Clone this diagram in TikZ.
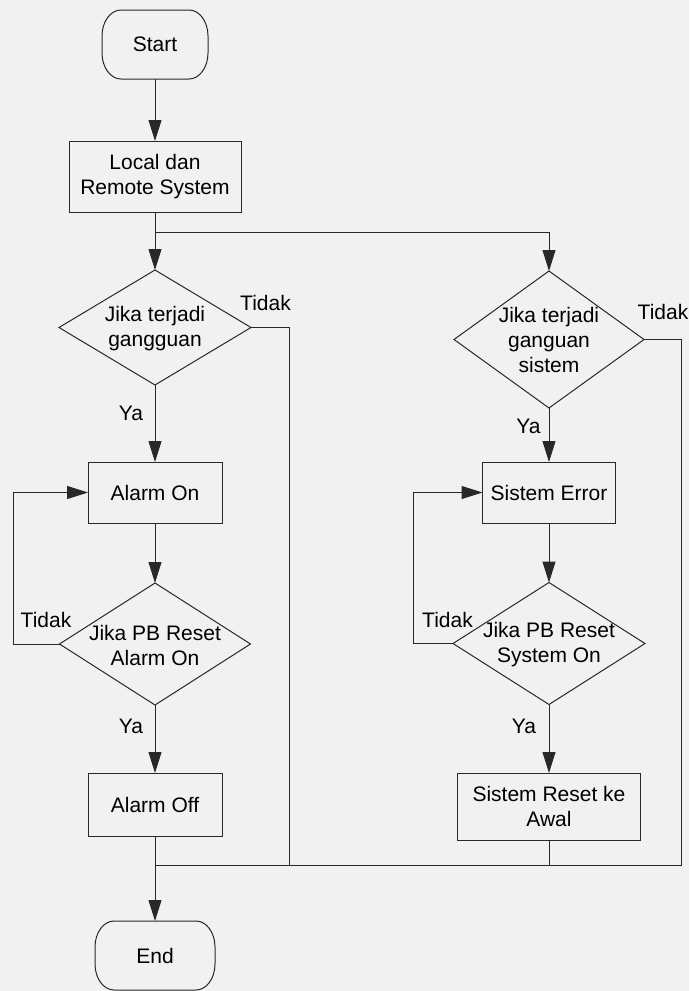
\documentclass[tikz,border=0pt]{standalone}
\usepackage{fontspec}
\setmainfont{Liberation Sans}
\usetikzlibrary{arrows.meta,shapes.geometric}
\definecolor{bgc}{RGB}{241,241,241}
\definecolor{lnc}{RGB}{40,40,40}
\newcommand{\termoutline}[1]{%
  \draw[lnc,line width=1pt] ([xshift=19pt]#1.north west) -- ([xshift=-19pt]#1.north east)
    arc[start angle=90,end angle=0,x radius=19pt,y radius=26pt]
    -- ([yshift=26pt]#1.south east)
    arc[start angle=0,end angle=-90,x radius=19pt,y radius=26pt]
    -- ([xshift=19pt]#1.south west)
    arc[start angle=-90,end angle=-180,x radius=19pt,y radius=26pt]
    -- ([yshift=-26pt]#1.north west)
    arc[start angle=180,end angle=90,x radius=19pt,y radius=26pt] -- cycle;}
\begin{document}
\begin{tikzpicture}[x=1pt,y=-1pt,
  every node/.style={font=\fontsize{21}{25}\selectfont, inner sep=0pt, outer sep=0pt},
  termbox/.style={rectangle, minimum width=#1, minimum height=69},
  procbox/.style={rectangle, draw=lnc, line width=1pt, align=center},
  decbox/.style={diamond, draw=lnc, line width=1pt, aspect=1.6},
  dtext/.style={align=center},
  lbl/.style={anchor=base},
  conn/.style={draw=lnc, line width=1pt},
  arr/.style={conn, -{Triangle[length=21pt,width=13pt]}}]
\fill[bgc] (0,0) rectangle (689,991);
\useasboundingbox (0,0) rectangle (689,991);
% terminals
\node[termbox=106] (start) at (155,44.5) {Start};
\termoutline{start}
\node[termbox=120] (end) at (155,955.5) {End};
\termoutline{end}
% left column
\node[procbox, minimum width=172, minimum height=71] (local) at (155,176.5) {Local dan\\Remote System};
\node[decbox, minimum width=192, minimum height=115] (d1) at (155,327.5) {};
\node[dtext] (d1t) at (155,329) {Jika terjadi\\gangguan};
\node[procbox, minimum width=134, minimum height=61] (alarmon) at (155,492.5) {Alarm On};
\node[decbox, minimum width=191, minimum height=122] (d2) at (155,644) {};
\node[dtext] (d2t) at (155,645) {Jika PB Reset\\Alarm On};
\node[procbox, minimum width=134, minimum height=63] (alarmoff) at (155,804.5) {Alarm Off};
% right column
\node[decbox, minimum width=190, minimum height=137] (d3) at (549,339.5) {};
\node[dtext] (d3t) at (549,340) {Jika terjadi\\ganguan\\sistem};
\node[procbox, minimum width=133, minimum height=61] (syserr) at (549,492.5) {Sistem Error};
\node[decbox, minimum width=192, minimum height=122] (d4) at (549,643.5) {};
\node[dtext] (d4t) at (549,645) {Jika PB Reset\\System On};
\node[procbox, minimum width=183, minimum height=67] (sysreset) at (549,806.5) {Sistem Reset ke\\Awal};
% coordinates
\coordinate (j1) at (155,232);
\coordinate (b0) at (155,865);
\coordinate (b1) at (289,865);
\coordinate (b3) at (549,865);
\coordinate (b4) at (681,865);
% connectors
\draw[arr] (start) -- (local);
\draw[conn] (local.south) -- (j1);
\draw[arr] (j1) -- (d1.north);
\draw[arr] (j1) -| (d3.north);
\draw[arr] (d1.south) -- (alarmon.north);
\draw[arr] (alarmon.south) -- (d2.north);
\draw[arr] (d2.south) -- (alarmoff.north);
\draw[arr] (d2.west) -- ++(-46,0) |- (alarmon.west);
\draw[conn] (alarmoff.south) -- (b0);
\draw[arr] (b0) -- (end.north);
\draw[conn] (d1.east) -| (b1);
\draw[arr] (d3.south) -- (syserr.north);
\draw[arr] (syserr.south) -- (d4.north);
\draw[arr] (d4.south) -- (sysreset.north);
\draw[arr] (d4.west) -- ++(-40,0) |- (syserr.west);
\draw[conn] (sysreset.south) -- (b3);
\draw[conn] (d3.east) -| (b4) -- (b0);
% labels
\node[lbl] (t1) at (265.5,310) {Tidak};
\node[lbl] (t2) at (663,319) {Tidak};
\node[lbl] (t3) at (46,627) {Tidak};
\node[lbl] (t4) at (447.5,627) {Tidak};
\node[lbl] (y1) at (131,420) {Ya};
\node[lbl] (y2) at (131,733) {Ya};
\node[lbl] (y3) at (528.5,433) {Ya};
\node[lbl] (y4) at (524,733) {Ya};
\end{tikzpicture}
\end{document}
